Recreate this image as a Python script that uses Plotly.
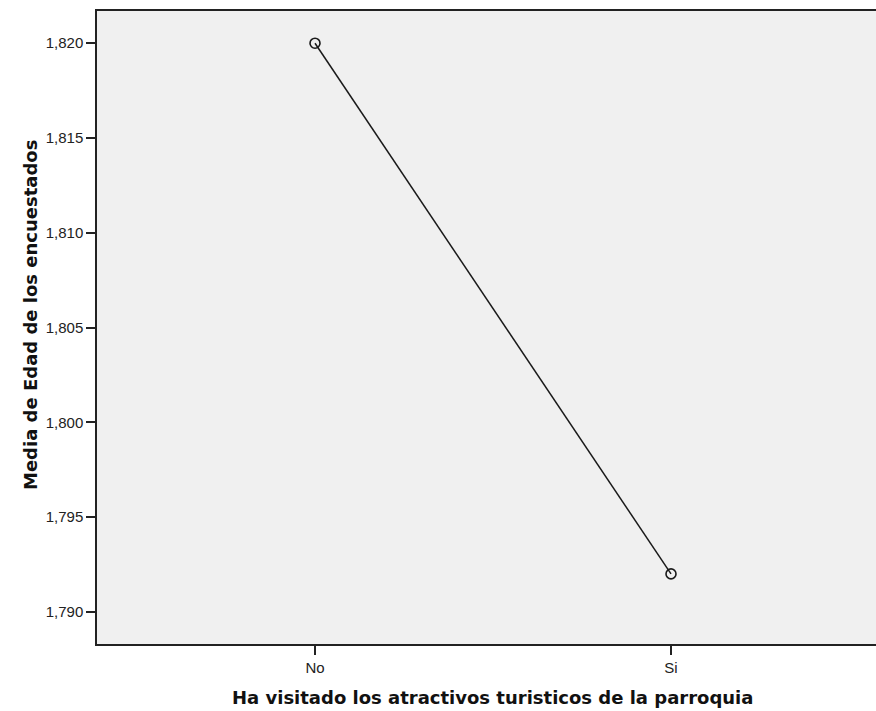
import plotly.graph_objects as go

categories = ["No", "Si"]
mean_age = [1.820, 1.792]
y_ticks = [1.790, 1.795, 1.800, 1.805, 1.810, 1.815, 1.820]

fig_w, fig_h = 876, 711
m_l, m_r, m_t, m_b = 97, 0, 11, 67
plot_w, plot_h = fig_w - m_l - m_r, fig_h - m_t - m_b

fig = go.Figure()
fig.add_trace(go.Scatter(
    x=categories, y=mean_age,
    mode="lines+markers",
    line=dict(color="#1a1a1a", width=1.5),
    marker=dict(symbol="circle-open", size=10, color="#1a1a1a", line=dict(width=1.6)),
    showlegend=False,
))

fig.update_layout(
    width=fig_w, height=fig_h,
    paper_bgcolor="white",
    plot_bgcolor="#f0f0f0",
    separators=",.",
    font=dict(family="Liberation Sans, Arial", color="#222", size=15),
    margin=dict(l=m_l, r=m_r, t=m_t, b=m_b, pad=0),
    xaxis=dict(
        type="category",
        range=[-0.6124, 1.5758],
        showline=True, linecolor="#222", linewidth=1.5, mirror=True,
        ticks="outside", ticklen=9, tickcolor="#222", tickwidth=1.5,
        showgrid=False, zeroline=False,
        tickfont=dict(size=15),
    ),
    yaxis=dict(
        range=[1.7883, 1.8217],
        tickvals=y_ticks, tickformat=".3f",
        showline=True, linecolor="#222", linewidth=1.5,
        ticks="outside", ticklen=9, tickcolor="#222", tickwidth=1.5,
        showgrid=False, zeroline=False,
        tickfont=dict(size=15),
    ),
)

# axis titles placed by pixel (plot area spans x 97..876, y 11..644)
title_font = dict(family="DejaVu Sans, Verdana", size=18, color="#111")
fig.add_annotation(
    text="<b>Ha visitado los atractivos turisticos de la parroquia</b>",
    x=(492.5 - 97) / plot_w, xref="paper",
    y=(644 - 697) / plot_h, yref="paper",
    xanchor="center", yanchor="middle",
    showarrow=False, font=title_font,
)
fig.add_annotation(
    text="<b>Media de Edad de los encuestados</b>", textangle=-90,
    x=(30 - 97) / plot_w, xref="paper",
    y=(644 - 315) / plot_h, yref="paper",
    xanchor="center", yanchor="middle",
    showarrow=False, font=title_font,
)

# drop the page's default body margin so the figure fills the window exactly
fig.write_html(
    "out.html",
    config={"displayModeBar": False},
    post_script="document.body.style.margin='0';",
)
